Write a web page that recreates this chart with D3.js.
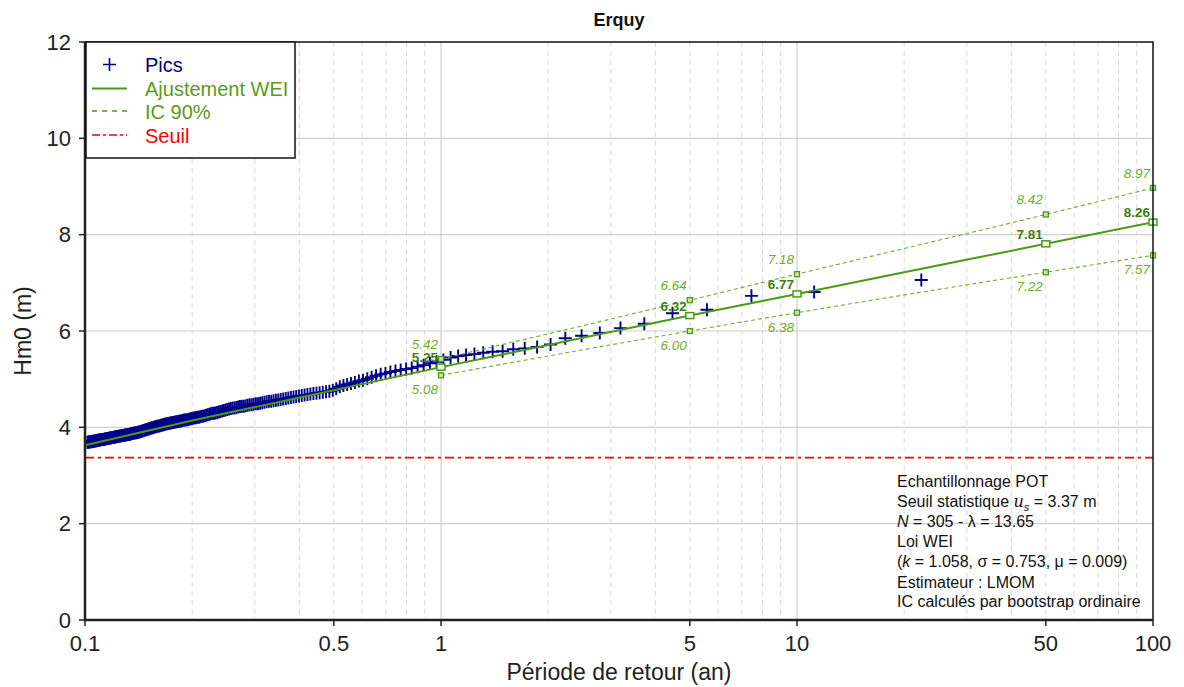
<!DOCTYPE html>
<html>
<head>
<meta charset="utf-8">
<script src="https://cdn.jsdelivr.net/npm/d3@7"></script>
<style>
  body { margin: 0; background: #fff; }
  svg text { font-family: "Liberation Sans", Arial, sans-serif; }
</style>
</head>
<body>
<svg id="chart" width="1184" height="687"></svg>
<script>
// sample info (from the annotation box)
var nPeaks = 305;
var lambda = 13.65;
var seuil = 3.37;

// peaks sorted from highest to lowest (only the ones visible for T >= 0.1 an)
var peaks = [
  7.06, 6.81, 6.73, 6.44, 6.37, 6.15, 6.06, 5.96, 5.90, 5.85,
  5.72, 5.67, 5.64, 5.62, 5.58, 5.57, 5.55, 5.52, 5.50, 5.48,
  5.45, 5.40, 5.36, 5.33, 5.29, 5.26, 5.23, 5.21, 5.19, 5.17,
  5.15, 5.12, 5.10, 5.07, 5.04, 5.01, 4.98, 4.96, 4.93, 4.91,
  4.89, 4.87, 4.84, 4.80, 4.77, 4.75, 4.74, 4.73, 4.72, 4.71,
  4.70, 4.69, 4.68, 4.67, 4.66, 4.65, 4.64, 4.63, 4.62, 4.61,
  4.60, 4.59, 4.58, 4.57, 4.56, 4.55, 4.54, 4.54, 4.53, 4.52,
  4.51, 4.50, 4.49, 4.49, 4.48, 4.47, 4.47, 4.46, 4.45, 4.44,
  4.44, 4.43, 4.42, 4.41, 4.40, 4.40, 4.39, 4.38, 4.37, 4.36,
  4.35, 4.34, 4.33, 4.32, 4.31, 4.30, 4.29, 4.29, 4.28, 4.27,
  4.26, 4.25, 4.24, 4.23, 4.23, 4.22, 4.21, 4.21, 4.20, 4.20,
  4.19, 4.18, 4.18, 4.17, 4.16, 4.16, 4.15, 4.15, 4.14, 4.13,
  4.13, 4.12, 4.12, 4.11, 4.11, 4.10, 4.10, 4.09, 4.09, 4.08,
  4.08, 4.07, 4.07, 4.06, 4.05, 4.05, 4.04, 4.03, 4.03, 4.02,
  4.01, 4.01, 4.00, 3.99, 3.99, 3.98, 3.97, 3.97, 3.96, 3.95,
  3.95, 3.94, 3.93, 3.93, 3.92, 3.91, 3.91, 3.90, 3.90, 3.89,
  3.89, 3.88, 3.88, 3.87, 3.87, 3.86, 3.86, 3.85, 3.85, 3.85,
  3.84, 3.84, 3.84, 3.83, 3.83, 3.83, 3.82, 3.82, 3.82, 3.81,
  3.81, 3.81, 3.80, 3.80, 3.80, 3.79, 3.79, 3.79, 3.78, 3.78,
  3.78, 3.77, 3.77, 3.77, 3.76, 3.76, 3.76, 3.75, 3.75, 3.75,
  3.74, 3.74, 3.74, 3.73, 3.73, 3.73, 3.72, 3.72, 3.72, 3.71,
  3.71, 3.71, 3.71, 3.70, 3.70, 3.70, 3.70, 3.69, 3.69, 3.69
];

// WEI fit curve
var fitT = [0.1, 0.15, 0.2, 0.3, 0.5, 1, 2, 5, 10, 20, 50, 100];
var fitHm0 = [3.63, 3.93, 4.14, 4.42, 4.77, 5.25, 5.71, 6.32, 6.77, 7.22, 7.81, 8.26];

// labelled return levels with 90% confidence interval
var labelT = [1, 5, 10, 50, 100];
var labelFit = [5.25, 6.32, 6.77, 7.81, 8.26];
var icLow = [5.08, 6.00, 6.38, 7.22, 7.57];
var icHigh = [5.42, 6.64, 7.18, 8.42, 8.97];

var xTicks = [0.1, 0.5, 1, 5, 10, 50, 100];
var xTickLabels = ['0.1', '0.5', '1', '5', '10', '50', '100'];
var yTicks = [0, 2, 4, 6, 8, 10, 12];

var legendLabels = ['Pics', 'Ajustement WEI', 'IC 90%', 'Seuil'];
var infoLines = ['Echantillonnage POT', 'Seuil statistique', 'N', 'Loi WEI', '(k', 'Estimateur : LMOM', 'IC calculés par bootstrap ordinaire'];

var pLeft = 85, pRight = 1153, pTop = 42, pBottom = 620;
var blue = '#00008b', green = '#4a9a14', greenDark = '#3d7f0e', greenLight = '#6dae2c', red = '#ff0000';

var svg = d3.select('#chart');
var x = d3.scaleLog().domain([0.1, 100]).range([pLeft, pRight]);
var y = d3.scaleLinear().domain([0, 12]).range([pBottom, pTop]);

svg.append('defs').append('clipPath').attr('id', 'plotclip')
    .append('rect').attr('x', pLeft).attr('y', pTop).attr('width', pRight - pLeft).attr('height', pBottom - pTop);

// grid: minor dashed, decades solid
var minor = [];
[0.1, 1, 10].forEach(function (dec) {
    for (var k = 2; k <= 9; k++) minor.push(dec * k);
});
svg.selectAll('.minor-grid').data(minor).enter().append('line')
    .attr('class', 'minor-grid')
    .attr('x1', function (d) { return x(d); }).attr('x2', function (d) { return x(d); })
    .attr('y1', pTop).attr('y2', pBottom)
    .attr('stroke', '#d9d9d9').attr('stroke-width', 1).attr('stroke-dasharray', '5,4');
svg.selectAll('.major-grid').data([1, 10]).enter().append('line')
    .attr('class', 'major-grid')
    .attr('x1', function (d) { return x(d); }).attr('x2', function (d) { return x(d); })
    .attr('y1', pTop).attr('y2', pBottom)
    .attr('stroke', '#cfcfcf').attr('stroke-width', 1.2);
svg.selectAll('.y-grid').data(yTicks.slice(1, -1)).enter().append('line')
    .attr('class', 'y-grid')
    .attr('x1', pLeft).attr('x2', pRight)
    .attr('y1', function (d) { return y(d); }).attr('y2', function (d) { return y(d); })
    .attr('stroke', '#cfcfcf').attr('stroke-width', 1.2);

var plot = svg.append('g').attr('clip-path', 'url(#plotclip)');

// threshold
plot.append('line')
    .attr('x1', pLeft).attr('x2', pRight)
    .attr('y1', y(seuil)).attr('y2', y(seuil))
    .attr('stroke', red).attr('stroke-width', 1.8).attr('stroke-dasharray', '9,4,3,4');

// peaks: empirical return period from rank
var nYears = nPeaks / lambda;
var pts = peaks.map(function (v, i) { return { T: nYears / (i + 1), v: v }; });
plot.selectAll('.pic').data(pts).enter().append('path')
    .attr('class', 'pic')
    .attr('d', function (d) {
        var cx = x(d.T), cy = y(d.v);
        return 'M' + (cx - 6.5) + ',' + cy + 'H' + (cx + 6.5) + 'M' + cx + ',' + (cy - 6.5) + 'V' + (cy + 6.5);
    })
    .attr('stroke', blue).attr('stroke-width', 1.9).attr('fill', 'none');

// fit and IC
var line = d3.line()
    .x(function (d) { return x(d[0]); })
    .y(function (d) { return y(d[1]); })
    .curve(d3.curveMonotoneX);
plot.append('path')
    .attr('d', line(fitT.map(function (t, i) { return [t, fitHm0[i]]; })))
    .attr('fill', 'none').attr('stroke', green).attr('stroke-width', 2);
[icLow, icHigh].forEach(function (arr) {
    plot.append('path')
        .attr('d', line(labelT.map(function (t, i) { return [t, arr[i]]; })))
        .attr('fill', 'none').attr('stroke', greenLight).attr('stroke-width', 1.1)
        .attr('stroke-dasharray', '4,3');
});

// squares and labels
labelT.forEach(function (t, i) {
    svg.append('rect')
        .attr('x', x(t) - 4).attr('y', y(labelFit[i]) - 3)
        .attr('width', 8).attr('height', 6)
        .attr('fill', '#f4f9ee').attr('stroke', green).attr('stroke-width', 1.5);
    [icLow[i], icHigh[i]].forEach(function (v) {
        svg.append('rect')
            .attr('x', x(t) - 2.5).attr('y', y(v) - 2.5)
            .attr('width', 5).attr('height', 5)
            .attr('fill', '#cfe3b9').attr('stroke', green).attr('stroke-width', 1.3);
    });
    svg.append('text')
        .attr('x', x(t) - 3).attr('y', y(labelFit[i]) - 5)
        .attr('text-anchor', 'end').style('font-size', '13.5px').style('font-weight', 'bold')
        .attr('fill', greenDark).text(labelFit[i].toFixed(2));
    svg.append('text')
        .attr('x', x(t) - 3).attr('y', y(icHigh[i]) - 10)
        .attr('text-anchor', 'end').style('font-size', '13.5px').style('font-style', 'italic')
        .attr('fill', greenLight).text(icHigh[i].toFixed(2));
    svg.append('text')
        .attr('x', x(t) - 3).attr('y', y(icLow[i]) + 19)
        .attr('text-anchor', 'end').style('font-size', '13.5px').style('font-style', 'italic')
        .attr('fill', greenLight).text(icLow[i].toFixed(2));
});

// frame
svg.append('rect')
    .attr('x', pLeft).attr('y', pTop).attr('width', pRight - pLeft).attr('height', pBottom - pTop)
    .attr('fill', 'none').attr('stroke', '#111').attr('stroke-width', 1.5);
svg.append('line').attr('x1', pLeft).attr('x2', pLeft).attr('y1', pTop).attr('y2', pBottom + 1)
    .attr('stroke', '#222').attr('stroke-width', 2.5);
svg.append('line').attr('x1', pLeft - 1).attr('x2', pRight).attr('y1', pBottom).attr('y2', pBottom)
    .attr('stroke', '#222').attr('stroke-width', 2.5);

// axes ticks
svg.selectAll('.xtick').data(xTicks).enter().append('line')
    .attr('class', 'xtick')
    .attr('x1', function (d) { return x(d); }).attr('x2', function (d) { return x(d); })
    .attr('y1', pBottom).attr('y2', pBottom + 6)
    .attr('stroke', '#222').attr('stroke-width', 1.5);
svg.selectAll('.xlab').data(xTicks).enter().append('text')
    .attr('class', 'xlab')
    .attr('x', function (d) { return x(d); }).attr('y', pBottom + 31)
    .attr('text-anchor', 'middle').style('font-size', '22px').attr('fill', '#222')
    .text(function (d, i) { return xTickLabels[i]; });
svg.selectAll('.ytick').data(yTicks).enter().append('line')
    .attr('class', 'ytick')
    .attr('x1', pLeft - 6).attr('x2', pLeft)
    .attr('y1', function (d) { return y(d); }).attr('y2', function (d) { return y(d); })
    .attr('stroke', '#222').attr('stroke-width', 1.5);
svg.selectAll('.ylab').data(yTicks).enter().append('text')
    .attr('class', 'ylab')
    .attr('x', pLeft - 14).attr('y', function (d) { return y(d); })
    .attr('dy', '0.35em')
    .attr('text-anchor', 'end').style('font-size', '22px').attr('fill', '#222')
    .text(function (d) { return d; });

svg.append('text')
    .attr('x', (pLeft + pRight) / 2).attr('y', 680)
    .attr('text-anchor', 'middle').style('font-size', '23px').attr('fill', '#222')
    .text('Période de retour (an)');
svg.append('text')
    .attr('transform', 'translate(31,' + ((pTop + pBottom) / 2) + ')rotate(-90)')
    .attr('text-anchor', 'middle').style('font-size', '23px').attr('fill', '#222')
    .text('Hm0 (m)');
svg.append('text')
    .attr('x', (pLeft + pRight) / 2).attr('y', 26)
    .attr('text-anchor', 'middle').style('font-size', '18px').style('font-weight', 'bold')
    .attr('fill', '#111').text('Erquy');

// legend
var lg = svg.append('g');
lg.append('rect').attr('x', 86).attr('y', pTop).attr('width', 209).attr('height', 116)
    .attr('fill', '#fff').attr('stroke', '#111').attr('stroke-width', 1.5);
var legendColors = [blue, '#5b9a1a', '#5b9a1a', red];
var legendY = [72, 96, 119, 143];
lg.append('path')
    .attr('d', 'M103,64.5H116M109.5,58V71')
    .attr('stroke', blue).attr('stroke-width', 1.6);
lg.append('line').attr('x1', 92).attr('x2', 127).attr('y1', 88.5).attr('y2', 88.5)
    .attr('stroke', green).attr('stroke-width', 2);
lg.append('line').attr('x1', 92).attr('x2', 127).attr('y1', 111).attr('y2', 111)
    .attr('stroke', green).attr('stroke-width', 1.3).attr('stroke-dasharray', '5,5');
lg.append('line').attr('x1', 92).attr('x2', 127).attr('y1', 135).attr('y2', 135)
    .attr('stroke', red).attr('stroke-width', 1.3).attr('stroke-dasharray', '8,3,3,3');
lg.selectAll('.lgtext').data(legendLabels).enter().append('text')
    .attr('class', 'lgtext')
    .attr('x', 145).attr('y', function (d, i) { return legendY[i]; })
    .style('font-size', '20px')
    .attr('fill', function (d, i) { return legendColors[i]; })
    .text(function (d) { return d; });

// info box
var info = svg.append('g').style('font-size', '16px').attr('fill', '#111');
var iy = [487, 507, 527, 547, 567, 588, 607];
info.append('text').attr('x', 897).attr('y', iy[0]).text(infoLines[0]);
var t1 = info.append('text').attr('x', 897).attr('y', iy[1]);
t1.append('tspan').text('Seuil statistique ');
t1.append('tspan').style('font-style', 'italic').style('font-family', 'DejaVu Serif, serif').text('u');
t1.append('tspan').attr('dy', 4).style('font-size', '11px').style('font-style', 'italic').text('s');
t1.append('tspan').attr('dy', -4).text(' = ' + seuil.toFixed(2) + ' m');
var t2 = info.append('text').attr('x', 897).attr('y', iy[2]);
t2.append('tspan').style('font-style', 'italic').text('N');
t2.append('tspan').text(' = ' + nPeaks + ' - λ = ' + lambda.toFixed(2));
info.append('text').attr('x', 897).attr('y', iy[3]).text(infoLines[3]);
var t3 = info.append('text').attr('x', 897).attr('y', iy[4]);
t3.append('tspan').text('(');
t3.append('tspan').style('font-style', 'italic').text('k');
t3.append('tspan').text(' = 1.058, σ = 0.753, μ = 0.009)');
info.append('text').attr('x', 897).attr('y', iy[5]).text(infoLines[5]);
info.append('text').attr('x', 897).attr('y', iy[6]).text(infoLines[6]);
</script>
</body>
</html>
